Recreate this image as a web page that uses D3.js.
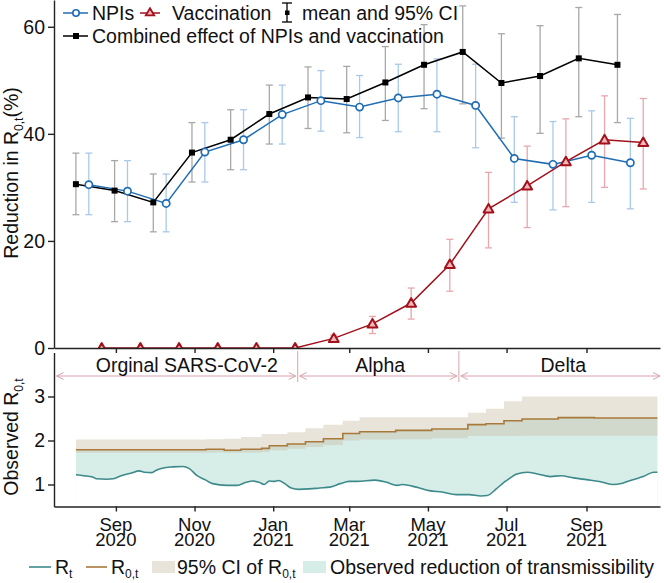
<!DOCTYPE html>
<html><head><meta charset="utf-8">
<script src="https://cdn.jsdelivr.net/npm/d3@7"></script>
<style>body{margin:0;background:#fff} svg{display:block;font-family:"Liberation Sans",Arial,Helvetica,sans-serif}</style>
</head><body><svg id="c" width="664" height="583"></svg>
<script>
// ---------- DATA ----------
const periodStarts = ["2020-08-01","2020-08-31","2020-09-30","2020-10-30","2020-11-29","2020-12-29","2021-01-28","2021-02-27","2021-03-29","2021-04-28","2021-05-28","2021-06-27","2021-07-27","2021-08-26","2021-09-25"];
const combinedMean = [30.6,29.4,27.2,36.5,38.9,43.7,46.8,46.5,49.6,52.9,55.3,49.5,50.8,54.1,52.9];
const combinedLo   = [24.9,23.6,21.7,31.0,33.3,38.1,41.0,40.2,42.5,44.7,45.6,39.2,40.1,43.2,42.1];
const combinedHi   = [36.4,35.0,32.5,42.1,44.5,49.1,52.5,52.6,56.3,60.4,63.9,58.7,60.2,63.6,62.3];
const npiMean = [30.5,29.3,27.0,36.6,38.9,43.6,46.2,45.0,46.7,47.4,45.3,35.4,34.3,36.0,34.6];
const npiLo   = [24.9,23.6,21.7,31.0,33.3,38.1,40.5,39.3,40.4,40.4,37.4,27.2,25.8,27.2,26.0];
const npiHi   = [36.4,35.0,32.5,42.1,44.5,49.1,51.8,50.9,53.0,54.0,53.0,43.2,42.3,44.3,42.9];
const vacMean = [0,0,0,0,0,0,1.8,4.5,8.4,15.6,26.0,30.3,34.8,38.9,38.4];
const vacLo   = [0,0,0,0,0,0,1.3,2.7,5.4,10.6,18.7,22.5,26.4,30.0,29.7];
const vacHi   = [0,0,0,0,0,0,2.4,5.9,11.2,20.3,32.8,37.7,42.8,47.1,46.6];

const rtDates = ["2020-08-01","2020-08-07","2020-08-14","2020-08-17","2020-08-25","2020-08-30","2020-09-05","2020-09-13","2020-09-19","2020-09-23","2020-09-29","2020-10-02","2020-10-07","2020-10-15","2020-10-23","2020-10-28","2020-11-03","2020-11-09","2020-11-15","2020-11-26","2020-12-04","2020-12-11","2020-12-16","2020-12-21","2020-12-25","2020-12-29","2021-01-02","2021-01-05","2021-01-10","2021-01-15","2021-01-21","2021-01-29","2021-02-06","2021-02-14","2021-02-22","2021-03-01","2021-03-07","2021-03-21","2021-03-30","2021-04-07","2021-04-11","2021-04-22","2021-05-02","2021-05-12","2021-05-23","2021-06-02","2021-06-11","2021-06-16","2021-06-23","2021-06-29","2021-07-01","2021-07-09","2021-07-17","2021-07-25","2021-08-04","2021-08-12","2021-08-22","2021-09-01","2021-09-11","2021-09-21","2021-09-29","2021-10-07","2021-10-15","2021-10-23","2021-10-26"];
const rtValues = [1.22,1.20,1.17,1.13,1.12,1.13,1.20,1.26,1.31,1.28,1.27,1.32,1.37,1.40,1.41,1.36,1.20,1.11,1.02,0.98,0.98,1.05,1.08,1.05,1.00,1.08,1.07,1.09,1.02,0.92,0.89,0.90,0.92,0.94,1.02,1.07,1.07,1.10,1.05,0.98,1.00,0.94,0.86,0.83,0.77,0.77,0.74,0.75,0.90,1.05,1.09,1.24,1.28,1.24,1.18,1.20,1.15,1.11,1.07,1.00,1.03,1.11,1.18,1.28,1.28];

const r0Dates  = ["2020-08-01","2020-11-10","2020-11-24","2020-12-07","2020-12-23","2020-12-29","2021-01-12","2021-01-26","2021-02-09","2021-02-24","2021-03-09","2021-04-06","2021-05-04","2021-06-01","2021-06-15","2021-06-29","2021-07-13","2021-08-10","2021-09-07","2021-10-26"];
const r0Values = [1.79,1.80,1.78,1.80,1.82,1.88,1.92,1.97,2.04,2.16,2.20,2.23,2.26,2.36,2.38,2.45,2.49,2.52,2.51,2.51];
const r0Lo     = [1.72,1.73,1.72,1.73,1.74,1.78,1.81,1.85,1.90,2.00,2.02,2.03,2.05,2.10,2.10,2.10,2.11,2.11,2.11,2.11];
const r0Hi     = [2.02,2.03,2.04,2.08,2.15,2.15,2.19,2.28,2.36,2.45,2.53,2.53,2.53,2.63,2.72,2.89,3.00,3.00,3.00,3.00];

const variantNames = ["Orginal SARS-CoV-2","Alpha","Delta"];
const variantBounds = ["2020-07-17","2021-01-20","2021-05-25","2021-10-28"];
const variantLabelDates = ["2020-10-26","2021-03-25","2021-08-14"];

const xTickDates = ["2020-09-01","2020-11-01","2021-01-01","2021-03-01","2021-05-01","2021-07-01","2021-09-01"];
const xTickMonths = ["Sep","Nov","Jan","Mar","May","Jul","Sep"];
const xTickYears = ["2020","2020","2021","2021","2021","2021","2021"];
const yTopTicks = [0,20,40,60];
const yBotTicks = [1,2,3];

// ---------- SETUP ----------
const parse = d3.timeParse("%Y-%m-%d");
const svg = d3.select("#c");
const FS = 19.5;
const x = d3.scaleTime().domain([parse("2020-07-15"), parse("2021-10-28")]).range([54, 660]);
const yTop = d3.scaleLinear().domain([0, 65]).range([348, 0]);
const yBot = d3.scaleLinear().domain([0.5, 4]).range([506.5, 352.5]);

const C = {
  blue:"#1f6db3", blueCI:"#a9c9e8",
  red:"#a3111b", redCI:"#e9a7ad", redFill:"#f2b8bc",
  black:"#000", greyCI:"#a8a8a8",
  teal:"#3d8a8b", tealFill:"#d7ede8", brown:"#a8793a", ciFill:"#c9bfa6",
  variant:"#d8a3ad", axis:"#222"
};

svg.append("defs").append("clipPath").attr("id","clipTop")
  .append("rect").attr("x",54).attr("y",0).attr("width",606).attr("height",348);

// ---------- TOP PANEL ----------
const topG = svg.append("g").attr("clip-path","url(#clipTop)");
const series = [
  {mean:combinedMean, lo:combinedLo, hi:combinedHi, off:0,  color:C.black, ci:C.greyCI, mark:"square"},
  {mean:npiMean, lo:npiLo, hi:npiHi, off:10, color:C.blue, ci:C.blueCI, mark:"circle"},
  {mean:vacMean, lo:vacLo, hi:vacHi, off:20, color:C.red, ci:C.redCI, mark:"triangle"}
];
const px = (i, off) => x(d3.timeDay.offset(parse(periodStarts[i]), off));

series.forEach(s => {
  const g = topG.append("g");
  const idx = d3.range(periodStarts.length).filter(i => s.hi[i] > s.lo[i]);
  g.selectAll("line.v").data(idx).join("line").attr("class","v")
    .attr("x1", i => px(i, s.off)).attr("x2", i => px(i, s.off))
    .attr("y1", i => yTop(s.lo[i])).attr("y2", i => yTop(s.hi[i]))
    .attr("stroke", s.ci).attr("stroke-width", 1.3);
  ["lo","hi"].forEach(k => {
    g.selectAll("line."+k).data(idx).join("line").attr("class",k)
      .attr("x1", i => px(i, s.off) - 3.5).attr("x2", i => px(i, s.off) + 3.5)
      .attr("y1", i => yTop(s[k][i])).attr("y2", i => yTop(s[k][i]))
      .attr("stroke", s.ci).attr("stroke-width", 1.3);
  });
});
series.forEach(s => {
  const line = d3.line().x((d,i) => px(i, s.off)).y(d => yTop(d));
  topG.append("path").attr("d", line(s.mean)).attr("fill","none")
    .attr("stroke", s.color).attr("stroke-width", 1.5);
});
series.forEach(s => {
  const g = topG.append("g");
  const pts = s.mean.map((v,i) => ({v,i}));
  if (s.mark === "square") {
    g.selectAll("rect").data(pts).join("rect")
      .attr("x", d => px(d.i, s.off) - 3).attr("y", d => yTop(d.v) - 3)
      .attr("width", 6).attr("height", 6).attr("fill", s.color);
  } else if (s.mark === "circle") {
    g.selectAll("circle").data(pts).join("circle")
      .attr("cx", d => px(d.i, s.off)).attr("cy", d => yTop(d.v)).attr("r", 3.6)
      .attr("fill","#fff").attr("stroke", s.color).attr("stroke-width", 1.7);
  } else {
    g.selectAll("path").data(pts).join("path")
      .attr("d", d3.symbol(d3.symbolTriangle, 42)())
      .attr("transform", d => `translate(${px(d.i, s.off)},${yTop(d.v)+0.8})`)
      .attr("fill", C.redFill).attr("stroke", s.color).attr("stroke-width", 2).attr("stroke-linejoin","round");
  }
});

function styleAxis(g){
  g.selectAll(".domain").attr("stroke", C.axis).attr("stroke-width", 1.4);
  g.selectAll(".tick line").attr("stroke", C.axis).attr("stroke-width", 1.4);
  g.selectAll("text").attr("font-size", FS).attr("fill","#111").attr("font-family",'"Liberation Sans",Arial,sans-serif');
}
const tickDates = xTickDates.map(parse);
svg.append("g").attr("transform","translate(0,348)")
  .call(d3.axisBottom(x).tickValues(tickDates).tickSize(5).tickSizeOuter(0).tickFormat(""))
  .call(styleAxis);
svg.append("g").attr("transform","translate(54,0)")
  .call(d3.axisLeft(yTop).tickValues(yTopTicks).tickSize(6).tickSizeOuter(0).tickPadding(3).tickFormat(d3.format("d")))
  .call(styleAxis);

// ---------- BOTTOM PANEL ----------
const rt = rtDates.map((d,i) => ({d:parse(d), v:rtValues[i]}));
const r0 = r0Dates.map((d,i) => ({d:parse(d), v:r0Values[i], lo:r0Lo[i], hi:r0Hi[i]}));
const base = yBot(0.5);
svg.append("path").attr("d", d3.area().curve(d3.curveStepAfter).x(d => x(d.d)).y0(base).y1(d => yBot(d.v))(r0))
  .attr("fill", C.tealFill);
svg.append("path").attr("d", d3.area().curve(d3.curveMonotoneX).x(d => x(d.d)).y0(base + 1).y1(d => yBot(d.v))(rt))
  .attr("fill", "#fff");
svg.append("path").attr("d", d3.area().curve(d3.curveStepAfter).x(d => x(d.d)).y0(d => yBot(d.lo)).y1(d => yBot(d.hi))(r0))
  .attr("fill", C.ciFill).attr("fill-opacity", 0.42);
svg.append("path").attr("d", d3.line().curve(d3.curveStepAfter).x(d => x(d.d)).y(d => yBot(d.v))(r0))
  .attr("fill","none").attr("stroke", C.brown).attr("stroke-width", 1.6);
svg.append("path").attr("d", d3.line().curve(d3.curveMonotoneX).x(d => x(d.d)).y(d => yBot(d.v))(rt))
  .attr("fill","none").attr("stroke", C.teal).attr("stroke-width", 1.6);

svg.append("g").attr("transform",`translate(0,${base})`)
  .call(d3.axisBottom(x).tickValues(tickDates).tickSize(5).tickSizeOuter(0).tickFormat(""))
  .call(styleAxis);
const lab = svg.append("g");
tickDates.forEach((d,i) => {
  lab.append("text").attr("x", x(d)).attr("y", 531).attr("text-anchor","middle")
    .attr("font-size", 18.5).attr("fill","#111").text(xTickMonths[i]);
  lab.append("text").attr("x", x(d)).attr("y", 546).attr("text-anchor","middle")
    .attr("font-size", 18.5).attr("fill","#111").text(xTickYears[i]);
});
svg.append("g").attr("transform","translate(54,0)")
  .call(d3.axisLeft(yBot).tickValues(yBotTicks).tickSize(6).tickSizeOuter(0).tickPadding(3).tickFormat(d3.format("d")))
  .call(styleAxis);

// variants
const vb = variantBounds.map(parse).map(x);
const ay = 376;
const vg = svg.append("g").attr("stroke", C.variant).attr("stroke-width", 1).attr("fill","none");
variantNames.forEach((n,i) => {
  const a = vb[i] + (i === 0 ? 0 : 2), b = vb[i+1] - (i === variantNames.length-1 ? 0 : 2);
  vg.append("line").attr("x1", a).attr("x2", b).attr("y1", ay).attr("y2", ay);
  vg.append("path").attr("d", `M${a+7},${ay-3.5}L${a},${ay}L${a+7},${ay+3.5}`);
  vg.append("path").attr("d", `M${b-7},${ay-3.5}L${b},${ay}L${b-7},${ay+3.5}`);
  svg.append("text").attr("x", x(parse(variantLabelDates[i]))).attr("y", 372)
    .attr("text-anchor","middle").attr("font-size", FS).attr("fill","#111").text(n);
});
[1,2].forEach(i => {
  vg.append("line").attr("x1", vb[i]).attr("x2", vb[i]).attr("y1", 351).attr("y2", 382);
});

// ---------- AXIS TITLES ----------
const t1 = svg.append("text").attr("transform","translate(18,173) rotate(-90)")
  .attr("text-anchor","middle").attr("font-size", FS).attr("fill","#111");
t1.append("tspan").text("Reduction in R");
t1.append("tspan").attr("font-size", 12).attr("dy", 5).text("0,t");
t1.append("tspan").attr("dy", -5).text("(%)");
const t2 = svg.append("text").attr("transform","translate(18,437) rotate(-90)")
  .attr("text-anchor","middle").attr("font-size", FS).attr("fill","#111");
t2.append("tspan").text("Observed R");
t2.append("tspan").attr("font-size", 12).attr("dy", 5).text("0,t");

// ---------- TOP LEGEND ----------
const lg = svg.append("g").attr("font-size", FS).attr("fill","#111");
lg.append("line").attr("x1",63).attr("x2",88).attr("y1",13).attr("y2",13).attr("stroke",C.blue).attr("stroke-width",1.5);
lg.append("circle").attr("cx",76).attr("cy",13).attr("r",3.2).attr("fill","#fff").attr("stroke",C.blue).attr("stroke-width",1.6);
lg.append("text").attr("x",92).attr("y",20).text("NPIs");
lg.append("line").attr("x1",140).attr("x2",160).attr("y1",13).attr("y2",13).attr("stroke",C.red).attr("stroke-width",1.5);
lg.append("path").attr("d", d3.symbol(d3.symbolTriangle, 30)()).attr("transform","translate(150,13)")
  .attr("fill",C.redFill).attr("stroke",C.red).attr("stroke-width",1.8);
lg.append("text").attr("x",172).attr("y",20).text("Vaccination");
lg.append("line").attr("x1",287).attr("x2",287).attr("y1",3).attr("y2",22).attr("stroke","#000").attr("stroke-width",1.3);
lg.append("line").attr("x1",282).attr("x2",292).attr("y1",3).attr("y2",3).attr("stroke","#000").attr("stroke-width",1.3);
lg.append("line").attr("x1",282).attr("x2",292).attr("y1",22).attr("y2",22).attr("stroke","#000").attr("stroke-width",1.3);
lg.append("rect").attr("x",285).attr("y",10.5).attr("width",4.5).attr("height",4.5).attr("fill","#000");
lg.append("text").attr("x",302).attr("y",20).text("mean and 95% CI");
lg.append("line").attr("x1",63).attr("x2",88).attr("y1",36).attr("y2",36).attr("stroke","#000").attr("stroke-width",1.5);
lg.append("rect").attr("x",73).attr("y",33).attr("width",6).attr("height",6).attr("fill","#000");
lg.append("text").attr("x",92).attr("y",43).text("Combined effect of NPIs and vaccination");

// ---------- BOTTOM LEGEND ----------
const bl = svg.append("g").attr("font-size", FS).attr("fill","#111");
const ly = 567, lt = 574;
bl.append("line").attr("x1",29).attr("x2",51).attr("y1",ly).attr("y2",ly).attr("stroke",C.teal).attr("stroke-width",1.6);
const bt1 = bl.append("text").attr("x",55).attr("y",lt);
bt1.append("tspan").text("R"); bt1.append("tspan").attr("font-size",12).attr("dy",4).text("t");
bl.append("line").attr("x1",86).attr("x2",107).attr("y1",ly).attr("y2",ly).attr("stroke",C.brown).attr("stroke-width",1.6);
const bt2 = bl.append("text").attr("x",111).attr("y",lt);
bt2.append("tspan").text("R"); bt2.append("tspan").attr("font-size",12).attr("dy",4).text("0,t");
bl.append("rect").attr("x",152).attr("y",561).attr("width",23).attr("height",12).attr("fill",C.ciFill).attr("fill-opacity",0.42);
const bt3 = bl.append("text").attr("x",177).attr("y",lt);
bt3.append("tspan").text("95% CI of R"); bt3.append("tspan").attr("font-size",12).attr("dy",4).text("0,t");
bl.append("rect").attr("x",303).attr("y",561).attr("width",23).attr("height",12).attr("fill",C.tealFill);
bl.append("text").attr("x",330).attr("y",lt).text("Observed reduction of transmissibility");
</script></body></html>
